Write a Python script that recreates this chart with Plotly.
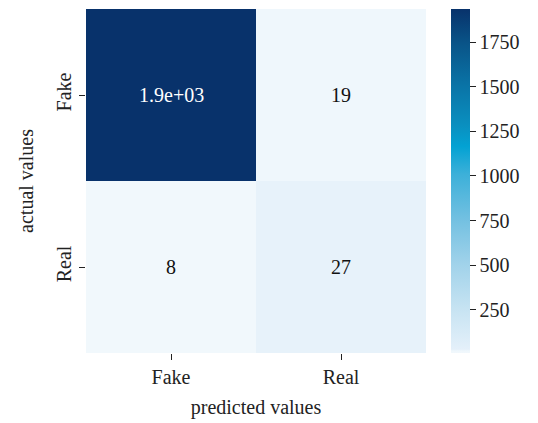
import plotly.graph_objects as go

# Confusion matrix (rows: actual, columns: predicted)
classes = ["Fake", "Real"]
counts = [[1935, 19],
          [8, 27]]
cbar_ticks = [250, 500, 750, 1000, 1250, 1500, 1750]

labels = [[f"{v:.2g}" for v in row] for row in counts]
zmin = min(min(r) for r in counts)
zmax = max(max(r) for r in counts)

blues = [
    [0.000, "#f1f8fc"],
    [0.006, "#eff7fc"],
    [0.011, "#e4f0fa"],
    [0.13, "#c6e3f2"],
    [0.26, "#a0d2ea"],
    [0.39, "#72c0e1"],
    [0.52, "#3cb0d9"],
    [0.60, "#03a2d3"],
    [0.66, "#0a90c0"],
    [0.78, "#0a73a6"],
    [0.90, "#095488"],
    [1.00, "#08326b"],
]

FONT = "Liberation Serif"
FS = 20

fig = go.Figure(go.Heatmap(
    z=counts, x=classes, y=classes,
    zmin=zmin, zmax=zmax,
    colorscale=blues,
    colorbar=dict(
        thickness=19, len=1.0, lenmode="fraction",
        x=1.0735, xanchor="left", y=0.5, yanchor="middle",
        xpad=0, ypad=0,
        outlinewidth=0,
        tickvals=cbar_ticks,
        ticks="outside", ticklen=6, tickwidth=1, tickcolor="#222",
        tickfont=dict(family=FONT, size=FS, color="#222"),
    ),
    hoverinfo="skip",
))

for i, row in enumerate(counts):
    for j, v in enumerate(row):
        fig.add_annotation(
            x=classes[j], y=classes[i], text=labels[i][j], showarrow=False,
            font=dict(family=FONT, size=FS,
                      color="white" if v > (zmin + zmax) / 2 else "#111"),
        )

fig.update_layout(
    width=538, height=423,
    margin=dict(l=86, r=112, t=9, b=70),
    paper_bgcolor="white", plot_bgcolor="white",
    font=dict(family=FONT, size=FS, color="#222"),
    xaxis=dict(
        title=dict(text="predicted values", standoff=12,
                   font=dict(family=FONT, size=FS)),
        ticks="outside", ticklen=6, tickwidth=1, tickcolor="#222",
        showgrid=False, zeroline=False, showline=False,
    ),
    yaxis=dict(
        title=dict(text="actual values", standoff=14,
                   font=dict(family=FONT, size=FS)),
        autorange="reversed", tickangle=-90,
        ticks="outside", ticklen=6, tickwidth=1, tickcolor="#222",
        showgrid=False, zeroline=False, showline=False,
    ),
)

fig.write_html("out.html")
